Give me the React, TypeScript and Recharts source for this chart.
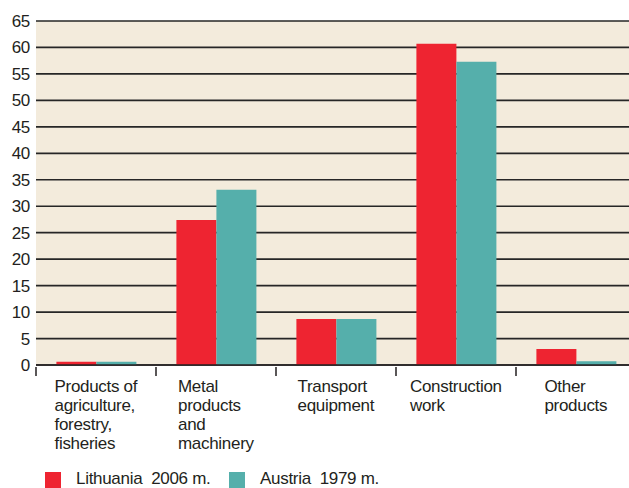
import { Bar, BarChart, CartesianGrid, XAxis, YAxis } from "recharts";

const categories = [
  "Products of\nagriculture,\nforestry,\nfisheries",
  "Metal\nproducts\nand\nmachinery",
  "Transport\nequipment",
  "Construction\nwork",
  "Other\nproducts",
];
const lithuania = [0.6, 27.4, 8.7, 60.7, 3.0];
const austria = [0.6, 33.1, 8.7, 57.3, 0.7];
const yTicks = [0, 5, 10, 15, 20, 25, 30, 35, 40, 45, 50, 55, 60, 65];
const seriesNames = ["Lithuania  2006 m.", "Austria  1979 m."];

const RED = "#ee2431";
const TEAL = "#55afab";
const BG = "#f3ebdc";
const INK = "#231f20";
const FONT = "'Liberation Sans', Arial, sans-serif";
const FS = 17;
const LS = -0.3;

const data = categories.map((c, i) => ({ cat: c, lt: lithuania[i], at: austria[i] }));

let ctx: CanvasRenderingContext2D | null = null;
function textWidth(s: string) {
  if (!ctx) ctx = document.createElement("canvas").getContext("2d");
  if (!ctx) return s.length * 8.5;
  ctx.font = `${FS}px ${FONT}`;
  return ctx.measureText(s).width + LS * (s.length - 1);
}

const BAND = 120;

function CatTick(props: any) {
  const { x, y, payload } = props;
  const lines = String(payload.value).split("\n");
  const w = Math.max(...lines.map(textWidth));
  const left = x - w / 2;
  return (
    <g>
      <line x1={x - BAND / 2} x2={x - BAND / 2} y1={y} y2={y + 9} stroke={INK} strokeWidth={1.5} />
      <text x={left} y={y + 25} fill={INK} fontSize={FS} fontFamily={FONT} letterSpacing={LS} textAnchor="start">
        {lines.map((l, i) => (
          <tspan key={i} x={left} dy={i === 0 ? 0 : 19}>
            {l}
          </tspan>
        ))}
      </text>
    </g>
  );
}

export default function App() {
  return (
    <div style={{ position: "absolute", left: 0, top: 0, width: 629, height: 488, overflow: "hidden", background: "#fff", fontFamily: FONT }}>
      <BarChart
        width={636}
        height={488}
        data={data}
        margin={{ top: 21, right: 0, left: 0, bottom: 0 }}
        barCategoryGap="17%"
        barGap={0}
      >
        <CartesianGrid fill={BG} stroke="none" horizontal={false} vertical={false} />
        <XAxis
          dataKey="cat"
          height={123}
          interval={0}
          tickSize={0}
          tickLine={false}
          axisLine={{ stroke: INK, strokeWidth: 1.6 }}
          tick={<CatTick />}
        />
        <YAxis
          width={36}
          domain={[0, 65]}
          ticks={yTicks}
          axisLine={false}
          tickLine={false}
          tickSize={0}
          tickMargin={6}
          tick={{ fill: INK, fontSize: FS, fontFamily: FONT, letterSpacing: LS }}
        />
        <Bar dataKey="lt" fill={RED} isAnimationActive={false} />
        <Bar dataKey="at" fill={TEAL} isAnimationActive={false} />
        <CartesianGrid vertical={false} stroke="#262626" strokeWidth={1.7} />
      </BarChart>
      {seriesNames.map((name, i) => (
        <div key={name}>
          <div
            style={{
              position: "absolute",
              left: i === 0 ? 45 : 229,
              top: 472,
              width: 16,
              height: 16,
              background: i === 0 ? RED : TEAL,
            }}
          />
          <div
            style={{
              position: "absolute",
              left: i === 0 ? 76 : 260,
              top: 471,
              fontSize: FS,
              letterSpacing: LS,
              lineHeight: "16px",
              color: INK,
              whiteSpace: "pre",
            }}
          >
            {name}
          </div>
        </div>
      ))}
    </div>
  );
}
